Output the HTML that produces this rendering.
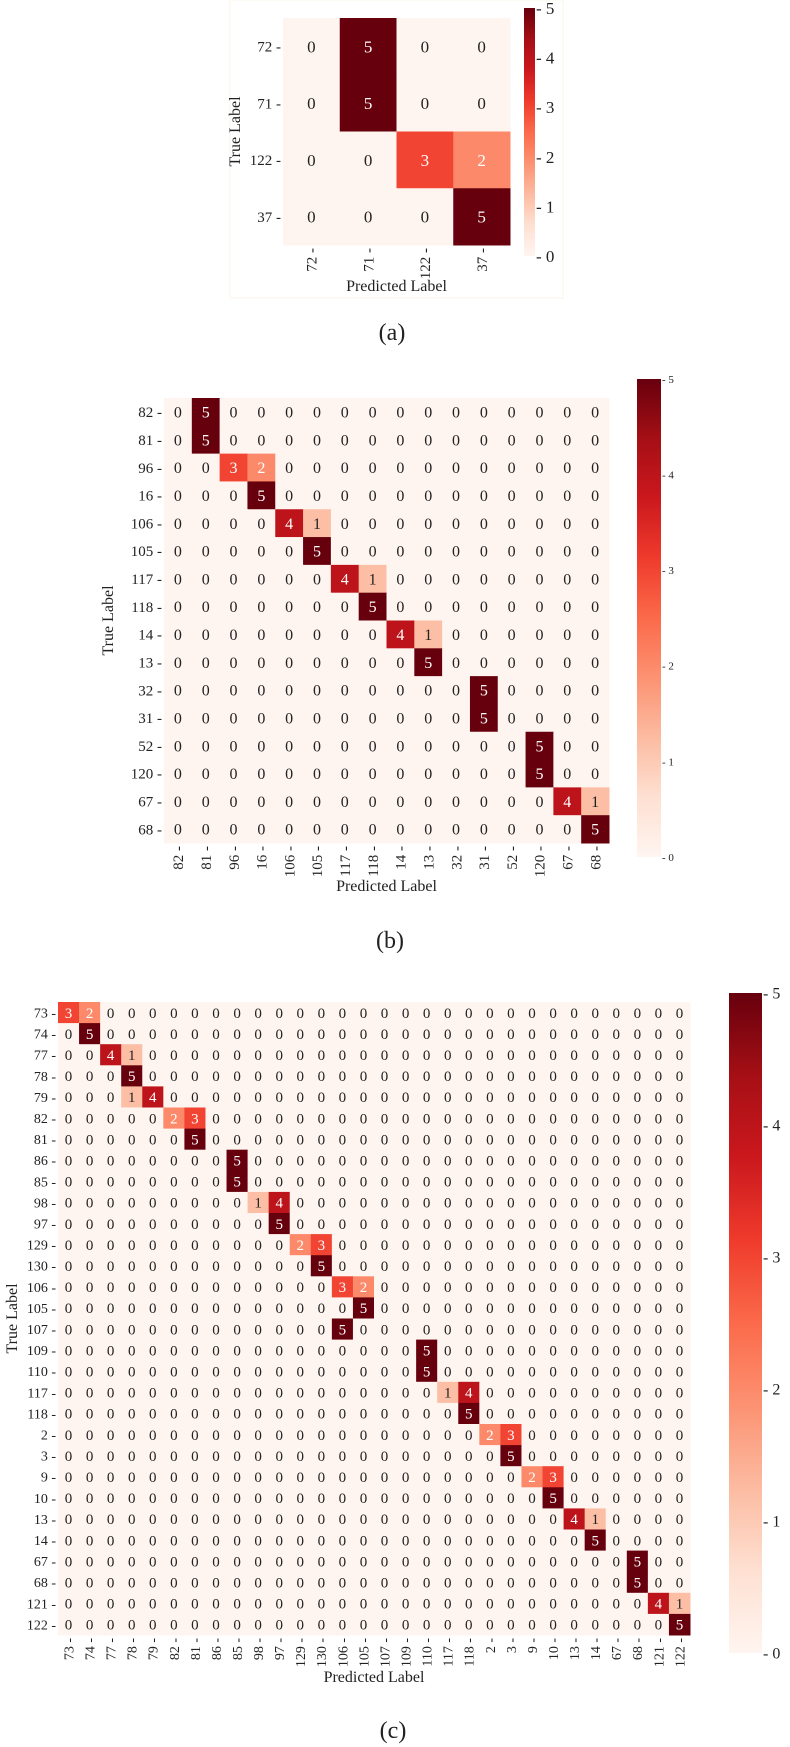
<!DOCTYPE html>
<html><head><meta charset="utf-8">
<style>
html,body{margin:0;padding:0;background:#fff;}
svg{display:block;font-family:"Liberation Serif",serif;}
</style></head>
<body>
<svg id="root" width="790" height="1747" viewBox="0 0 790 1747" xmlns="http://www.w3.org/2000/svg">
<defs>
<linearGradient id="reds" x1="0" y1="1" x2="0" y2="0">
<stop offset="0" stop-color="#fff5f0"/><stop offset="0.125" stop-color="#fee0d2"/>
<stop offset="0.25" stop-color="#fcbba1"/><stop offset="0.375" stop-color="#fc9272"/>
<stop offset="0.5" stop-color="#fb6a4a"/><stop offset="0.625" stop-color="#ef3b2c"/>
<stop offset="0.75" stop-color="#cb181d"/><stop offset="0.875" stop-color="#a50f15"/>
<stop offset="1" stop-color="#67000d"/>
</linearGradient>
</defs>
<rect x="230" y="0" width="333" height="298" fill="none" stroke="#f8f5e6" stroke-width="1"/>
</svg>
<script>
const labelsA = ["72","71","122","37"];
const cellsA = [[0,1,5],[1,1,5],[2,2,3],[2,3,2],[3,3,5]];
const labelsB = ["82","81","96","16","106","105","117","118","14","13","32","31","52","120","67","68"];
const cellsB = [[0,1,5],[1,1,5],[2,2,3],[2,3,2],[3,3,5],[4,4,4],[4,5,1],[5,5,5],[6,6,4],[6,7,1],[7,7,5],[8,8,4],[8,9,1],[9,9,5],[10,11,5],[11,11,5],[12,13,5],[13,13,5],[14,14,4],[14,15,1],[15,15,5]];
const labelsC = ["73","74","77","78","79","82","81","86","85","98","97","129","130","106","105","107","109","110","117","118","2","3","9","10","13","14","67","68","121","122"];
const cellsC = [[0,0,3],[0,1,2],[1,1,5],[2,2,4],[2,3,1],[3,3,5],[4,3,1],[4,4,4],[5,5,2],[5,6,3],[6,6,5],[7,8,5],[8,8,5],[9,9,1],[9,10,4],[10,10,5],[11,11,2],[11,12,3],[12,12,5],[13,13,3],[13,14,2],[14,14,5],[15,13,5],[16,17,5],[17,17,5],[18,18,1],[18,19,4],[19,19,5],[20,20,2],[20,21,3],[21,21,5],[22,22,2],[22,23,3],[23,23,5],[24,24,4],[24,25,1],[25,25,5],[26,27,5],[27,27,5],[28,28,4],[28,29,1],[29,29,5]];
const cbTicks = [0,1,2,3,4,5];

const NS="http://www.w3.org/2000/svg";
const root=document.getElementById('root');
const palette=["#fff5f0","#fcbea5","#fc8a6a","#f14432","#bc141a","#67000d"];
function color(v){return palette[Math.max(0,Math.min(5,Math.round(v)))];}
function el(tag,attrs,parent){const e=document.createElementNS(NS,tag);for(const k in attrs)e.setAttribute(k,attrs[k]);(parent||root).appendChild(e);return e;}

function heatmap(id,labels,cells,g){
  const n=labels.length;
  const cw=g.w/n, ch=g.h/n;
  const xs=i=>g.x+i*cw, ys=i=>g.y+i*ch;
  const m=labels.map(()=>labels.map(()=>0));
  cells.forEach(c=>{m[c[0]][c[1]]=c[2];});
  const grp=el('g',{});
  
  
  for(let r=0;r<n;r++)for(let c=0;c<n;c++){
    const v=m[r][c];
    const rect=el('rect',{x:xs(c),y:ys(r),width:cw+0.5,height:ch+0.5,fill:color(v)},grp);
    
    
  }
  for(let r=0;r<n;r++)for(let c=0;c<n;c++){
    const v=m[r][c];
    const t=el('text',{x:xs(c)+cw/2,y:ys(r)+ch/2+g.fs*0.35,'text-anchor':'middle','font-size':g.fs,fill:v>=2?'#fff':'#222'},grp);
    t.textContent=v;
    
    
  }
  for(let i=0;i<n;i++){
    const t=el('text',{x:g.x-2,y:ys(i)+ch/2+g.tfs*0.35,'text-anchor':'end','font-size':g.tfs,fill:'#222'});
    t.textContent=labels[i]+' -';
    
    
    const cx=xs(i)+cw/2+g.tfs*0.35, cy=g.y+g.h+3;
    const u=el('text',{x:cx,y:cy,'text-anchor':'end','font-size':g.tfs,fill:'#222',transform:'rotate(-90 '+cx+' '+cy+')'});
    u.textContent=labels[i]+' -';
    
    
  }
  const xt=el('text',{x:g.x+g.w/2,y:g.xty,'text-anchor':'middle','font-size':g.afs,fill:'#222'});
  xt.textContent='Predicted Label';
  
  
  const yy=g.y+g.h/2;
  const yt=el('text',{x:g.ytx,y:yy,'text-anchor':'middle','font-size':g.afs,fill:'#222',transform:'rotate(-90 '+g.ytx+' '+yy+')'});
  yt.textContent='True Label';
  
  
  const cb=g.cb;
  const cr=el('rect',{x:cb.x,y:cb.y0,width:cb.w,height:cb.y1-cb.y0,fill:'url(#reds)'});
  
  
  const cy=v=>cb.y1-(cb.y1-cb.y0)*v/5;
  cbTicks.forEach(v=>{
    const t=el('text',{x:cb.x+cb.w+1,y:cy(v)+cb.fs*0.35,'font-size':cb.fs,fill:'#222'});
    t.textContent='- '+v;
    
    
  });
  const cap=el('text',{x:g.capx,y:g.capy,'text-anchor':'middle','font-size':24,fill:'#222'});
  cap.textContent='('+id+')';
  
  
}
heatmap('a',labelsA,cellsA,{x:283,y:18,w:227,h:227,fs:17,tfs:15,afs:16,xty:291,ytx:240,capx:392,capy:340,
  cb:{x:524,w:11,y0:8,y1:256,fs:17}});
heatmap('b',labelsB,cellsB,{x:164,y:398,w:445,h:445,fs:16,tfs:15,afs:16,xty:891,ytx:113,capx:390,capy:948,
  cb:{x:637,w:24,y0:379,y1:857,fs:11}});
heatmap('c',labelsC,cellsC,{x:58,y:1002,w:632,h:633,fs:15,tfs:14,afs:16,xty:1682,ytx:17,capx:393,capy:1738,
  cb:{x:729,w:33,y0:993,y1:1653,fs:16}});
</script>
</body></html>
